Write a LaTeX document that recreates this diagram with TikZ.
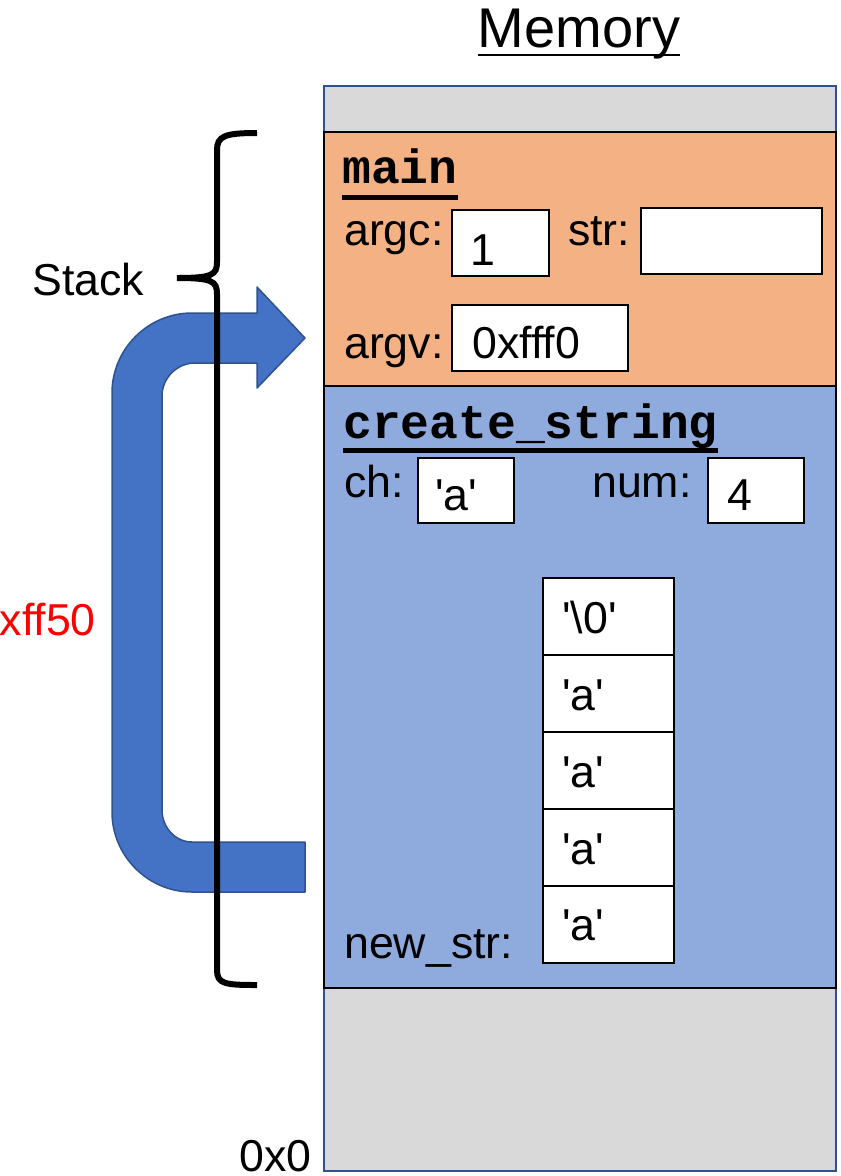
\documentclass[tikz,border=0pt]{standalone}
\usepackage{fontspec}
\setmainfont{Liberation Sans}
\newfontfamily\codefont{Liberation Mono}
\definecolor{memgray}{HTML}{D9D9D9}
\definecolor{memborder}{HTML}{2F528F}
\definecolor{mainfill}{HTML}{F4B183}
\definecolor{csfill}{HTML}{8FAADC}
\definecolor{arrowblue}{HTML}{4472C4}
\newcommand\sq{\textquotesingle}
\begin{document}
\begin{tikzpicture}[x=1pt,y=-1pt,
  lbl/.style={anchor=base west, inner sep=0, font=\fontsize{44.7}{50}\selectfont},
  codelbl/.style={anchor=base west, inner sep=0, font=\codefont\bfseries\fontsize{48}{54}\selectfont},
  frame/.style={draw=black, line width=2pt, anchor=north west, inner sep=0, minimum width=512pt},
  valbox/.style={draw=black, line width=2pt, fill=white, anchor=north west, inner sep=0},
  cell/.style={valbox, minimum width=131pt, minimum height=77pt}]
\useasboundingbox (0,0) rectangle (841,1176);
\clip (0,0) rectangle (841,1176);

% memory column
\node[draw=memborder, line width=2pt, fill=memgray, anchor=north west, inner sep=0,
      minimum width=512pt, minimum height=1085pt] (mem) at (323,85) {};
\node[frame, fill=mainfill, minimum height=254pt] (mainframe) at (323,131) {};
\node[frame, fill=csfill, minimum height=602pt] (csframe) at (323,385) {};

% title
\node[anchor=base, inner sep=0, font=\fontsize{56}{60}\selectfont] (memtitle) at (579,47) {Memory};
\draw[line width=2.5pt] ([yshift=-8pt]memtitle.base west) -- ([yshift=-8pt]memtitle.base east);

% main frame
\node[codelbl] (mainlbl) at (342,183) {main};
\draw[line width=5pt] ([yshift=-14pt]mainlbl.base west) -- ([yshift=-14pt]mainlbl.base east);
\node[lbl] (argc) at (344,245) {argc:};
\node[valbox, minimum width=97pt, minimum height=66pt] (argcbox) at (451,209) {};
\node[lbl] (argcval) at (470,265) {1};
\node[lbl] (strlbl) at (568,245) {str:};
\node[valbox, minimum width=181pt, minimum height=66pt] (strbox) at (640,207) {};
\node[lbl] (argv) at (344,358) {argv:};
\node[valbox, minimum width=176pt, minimum height=66pt] (argvbox) at (451,304) {};
\node[lbl] (argvval) at (472,358) {0xfff0};

% create_string frame
\node[codelbl] (cslbl) at (343,438) {create\_string};
\draw[line width=5pt] ([yshift=-12pt]cslbl.base west) -- ([yshift=-12pt]cslbl.base east);
\node[lbl] (ch) at (344,497) {ch:};
\node[valbox, minimum width=96pt, minimum height=65pt] (chbox) at (417,457) {};
\node[lbl] (chval) at (435,510) {\sq a\sq};
\node[lbl] (num) at (592,497) {num:};
\node[valbox, minimum width=96pt, minimum height=65pt] (numbox) at (707,457) {};
\node[lbl] (numval) at (727,510) {4};

% string cells
\node[cell] (c0) at (542,577) {};
\node[cell] (c1) at (542,654) {};
\node[cell] (c2) at (542,731) {};
\node[cell] (c3) at (542,808) {};
\node[cell] (c4) at (542,885) {};
\node[lbl] (t0) at (562,633) {\sq\textbackslash0\sq};
\node[lbl] (t1) at (562,710) {\sq a\sq};
\node[lbl] (t2) at (562,787) {\sq a\sq};
\node[lbl] (t3) at (562,864) {\sq a\sq};
\node[lbl] (t4) at (562,940) {\sq a\sq};
\node[lbl] (newstr) at (344,958) {new\_str:};

% address labels
\node[lbl, anchor=base east] (zero) at (312,1171) {0x0};
\node[lbl, anchor=base east, text=red] (addr) at (96,635) {0xff50};
\node[lbl] (stack) at (32,295) {Stack};

% U-turn arrow
\draw[fill=arrowblue, draw=memborder, line width=1.5pt, line join=round]
  (305,892) -- (192,892)
  .. controls (148,892) and (112,856) .. (112,812)
  -- (112,393)
  .. controls (112,349) and (148,313) .. (192,313)
  -- (257,313) -- (257,287) -- (305,338) -- (257,388) -- (257,363) -- (195,363)
  .. controls (177,363) and (162,378) .. (162,396)
  -- (162,810)
  .. controls (162,827) and (175,842) .. (192,842)
  -- (305,842) -- cycle;

% stack brace
\draw[line width=6pt]
  (257,133) .. controls (225,133) and (217,136) .. (217,150)
  -- (217,262) .. controls (217,275) and (212,278) .. (177,278)
  .. controls (212,278) and (217,281) .. (217,294)
  -- (217,970) .. controls (217,984) and (225,985) .. (257,985);
\end{tikzpicture}
\end{document}
